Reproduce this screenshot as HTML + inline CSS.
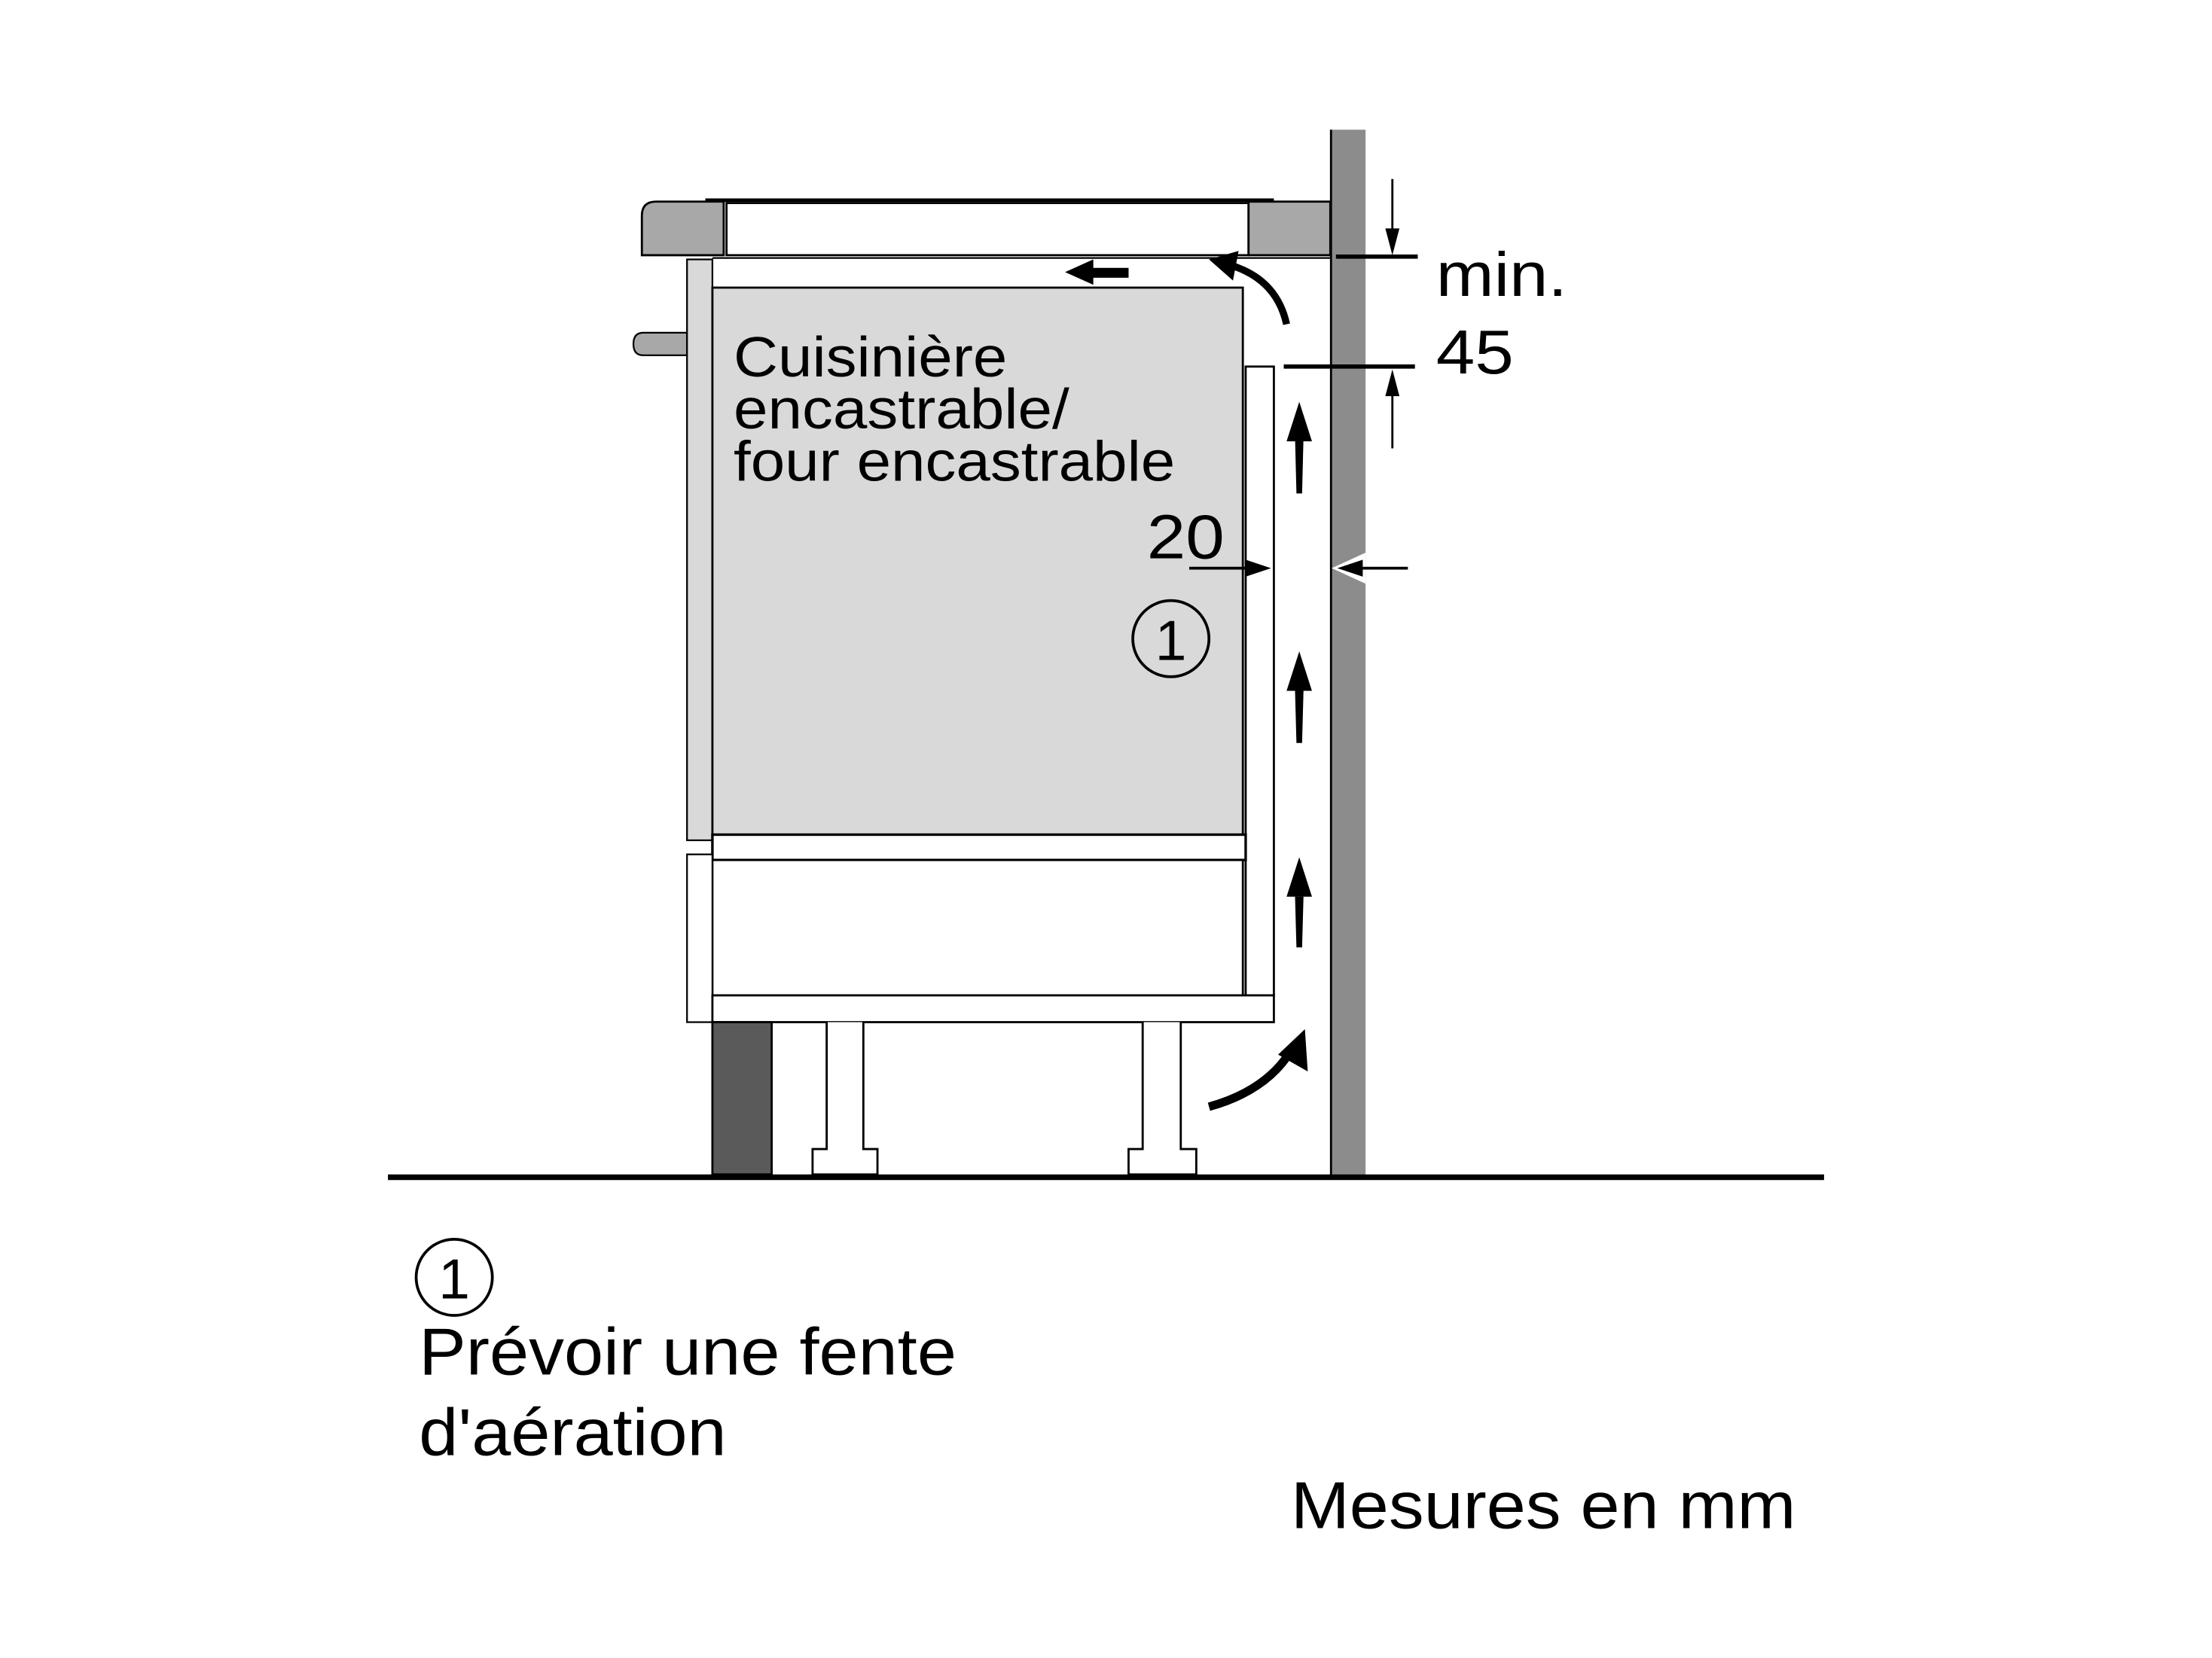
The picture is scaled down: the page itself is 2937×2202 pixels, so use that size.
<!DOCTYPE html>
<html><head><meta charset="utf-8"><style>
html,body{margin:0;padding:0;background:#fff;}
svg{display:block;}
text{font-family:"Liberation Sans",Arial,sans-serif;fill:#000;}
</style></head><body>
<svg width="2937" height="2202" viewBox="0 0 1568 1176" preserveAspectRatio="none" xmlns="http://www.w3.org/2000/svg">
<rect width="1568" height="1176" fill="#fff"/>
<!-- wall -->
<rect x="943" y="92" width="25" height="742" fill="#8c8c8c"/>
<line x1="943.5" y1="92" x2="943.5" y2="834" stroke="#000" stroke-width="1.5"/>
<polygon points="944,403 968,392 968,414" fill="#fff"/>
<!-- floor -->
<rect x="275" y="833" width="1018" height="4" fill="#000"/>
<!-- hob -->
<path d="M513,143 L465,143 Q455,143 455,153 L455,181 L513,181 Z" fill="#a8a8a8" stroke="#000" stroke-width="1.5"/>
<rect x="885" y="143" width="58" height="38" fill="#a8a8a8" stroke="#000" stroke-width="1.5"/>
<rect x="515" y="144" width="370" height="37" fill="#fff" stroke="#000" stroke-width="1.5"/>
<line x1="500" y1="142" x2="903" y2="142" stroke="#000" stroke-width="2.5"/>
<line x1="505" y1="183" x2="943" y2="183" stroke="#000" stroke-width="1.2"/>
<!-- knob -->
<path d="M487,236 L456,236 Q449,236 449,244 Q449,252 456,252 L487,252 Z" fill="#a8a8a8" stroke="#000" stroke-width="1.2"/>
<!-- front panel upper -->
<rect x="487" y="184" width="18" height="412" fill="#d9d9d9" stroke="#000" stroke-width="1.2"/>
<!-- oven -->
<rect x="505" y="204" width="376" height="388" fill="#d9d9d9" stroke="#000" stroke-width="1.5"/>
<!-- side panel -->
<rect x="883" y="260" width="20" height="446" fill="#fff" stroke="#000" stroke-width="1.5"/>
<!-- shelves / drawer -->
<rect x="505" y="592" width="378" height="18" fill="#fff" stroke="#000" stroke-width="1.8"/>
<rect x="505" y="610" width="376" height="96" fill="#fff" stroke="#000" stroke-width="1.5"/>
<rect x="487" y="606" width="18" height="119" fill="#fff" stroke="#000" stroke-width="1.2"/>
<rect x="505" y="706" width="398" height="19" fill="#fff" stroke="#000" stroke-width="1.5"/>
<!-- plinth -->
<rect x="505" y="725" width="42" height="108" fill="#5a5a5a" stroke="#000" stroke-width="1.5"/>
<!-- legs -->
<path d="M586,725 L586,815 L576,815 L576,833 L622,833 L622,815 L612,815 L612,725" fill="#fff" stroke="#000" stroke-width="1.5"/>
<path d="M810,725 L810,815 L800,815 L800,833 L848,833 L848,815 L837,815 L837,725" fill="#fff" stroke="#000" stroke-width="1.5"/>
<!-- airflow arrows -->
<rect x="770" y="190" width="30" height="7" fill="#000"/>
<polygon points="755,193 775,184 775,202" fill="#000"/>
<path d="M912,230 Q905,198 872,188" fill="none" stroke="#000" stroke-width="5"/>
<polygon points="857,184 878,178 874,199" fill="#000"/>
<g fill="#000">
<polygon points="919,350 923,350 924,310 918,310"/>
<polygon points="921,285 912,313 930,313"/>
<polygon points="919,527 923,527 924,490 918,490"/>
<polygon points="921,462 912,490 930,490"/>
<polygon points="919,672 923,672 924,636 918,636"/>
<polygon points="921,608 912,636 930,636"/>
</g>
<path d="M857,785 Q900,773 917,742" fill="none" stroke="#000" stroke-width="6"/>
<polygon points="925,730 927,760 906,748" fill="#000"/>
<!-- dimensions -->
<line x1="987" y1="127" x2="987" y2="170" stroke="#000" stroke-width="1.5"/>
<polygon points="987,181 982,162 992,162" fill="#000"/>
<line x1="947" y1="182" x2="1005" y2="182" stroke="#000" stroke-width="3"/>
<line x1="910" y1="260" x2="1003" y2="260" stroke="#000" stroke-width="3"/>
<line x1="987" y1="272" x2="987" y2="318" stroke="#000" stroke-width="1.5"/>
<polygon points="987,262 982,281 992,281" fill="#000"/>
<line x1="843" y1="403" x2="885" y2="403" stroke="#000" stroke-width="2"/>
<polygon points="901,403 883,397 883,409" fill="#000"/>
<line x1="962" y1="403" x2="998" y2="403" stroke="#000" stroke-width="2"/>
<polygon points="948,403 966,397 966,409" fill="#000"/>
<!-- labels -->
<text x="520" y="267" font-size="40" textLength="194" lengthAdjust="spacingAndGlyphs">Cuisinière</text>
<text x="520" y="304" font-size="40" textLength="238" lengthAdjust="spacingAndGlyphs">encastrable/</text>
<text x="520" y="341" font-size="40" textLength="313" lengthAdjust="spacingAndGlyphs">four encastrable</text>
<text x="813" y="396" font-size="44" textLength="55" lengthAdjust="spacingAndGlyphs">20</text>
<text x="1018" y="210" font-size="44" textLength="93" lengthAdjust="spacingAndGlyphs">min.</text>
<text x="1018" y="265" font-size="44" textLength="55" lengthAdjust="spacingAndGlyphs">45</text>
<ellipse cx="830" cy="453" rx="27" ry="27" fill="none" stroke="#000" stroke-width="2"/>
<text x="830" y="468" font-size="40" text-anchor="middle">1</text>
<ellipse cx="322" cy="906" rx="27" ry="27" fill="none" stroke="#000" stroke-width="2"/>
<text x="322" y="921" font-size="40" text-anchor="middle">1</text>
<text x="297" y="975" font-size="47" textLength="381" lengthAdjust="spacingAndGlyphs">Prévoir une fente</text>
<text x="297" y="1032" font-size="47" textLength="218" lengthAdjust="spacingAndGlyphs">d'aération</text>
<text x="915" y="1084" font-size="47" textLength="358" lengthAdjust="spacingAndGlyphs">Mesures en mm</text>
</svg>
</body></html>
